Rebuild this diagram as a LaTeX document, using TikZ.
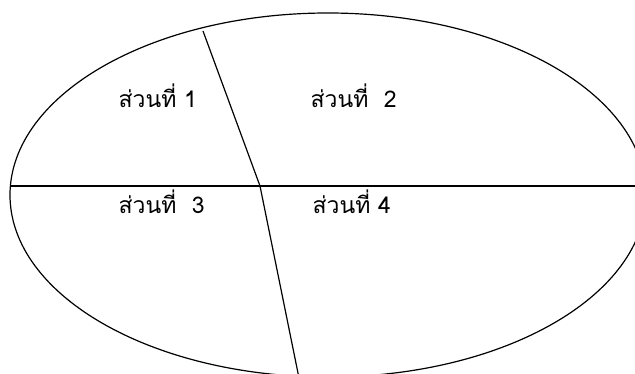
\documentclass[tikz,border=0pt]{standalone}
\usepackage{fontspec}
\newfontfamily\thaifont[Script=Thai]{Loma}
\usetikzlibrary{positioning}

\begin{document}
\begin{tikzpicture}[x=1pt, y=-1pt, line width=1.2pt,
  part/.style={anchor=base west, inner sep=0pt, font=\thaifont\fontsize{23}{27}\selectfont}]
% Page frame (fixes the margins)
\useasboundingbox (0,0) rectangle (635,374);
% Outer ellipse (runs past the right and bottom edges)
\draw (328,195) ellipse [x radius=318, y radius=182];
% Dividing points
\coordinate (left) at (10,186);
\coordinate (right) at (636,186);
\coordinate (top) at (203,31);
\coordinate (mid) at (260,186);
\coordinate (bottom) at (299,378);
% Dividing lines
\draw (left) -- (right);
\draw (top) -- (mid) -- (bottom);
% Part labels
\node[part] (p1) at (118,108) {ส่วนที่ 1};
\node[part] (p2) at (310,108) {ส่วนที่\ \ 2};
\node[part] (p3) at (118,214) {ส่วนที่\ \ 3};
\node[part] (p4) at (312,214) {ส่วนที่ 4};
\end{tikzpicture}
\end{document}
